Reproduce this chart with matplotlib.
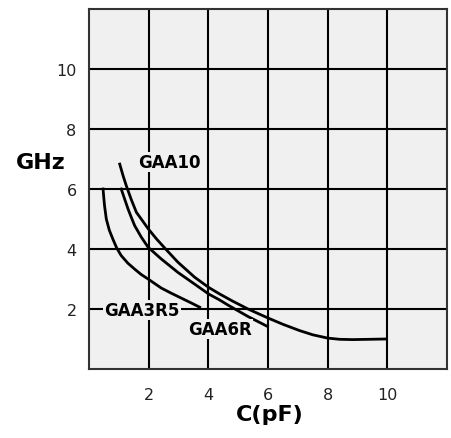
import numpy as np
import matplotlib.pyplot as plt

# Curvas (C en pF, f en GHz)
c_gaa3r5 = [0.47, 0.52, 0.58, 0.68, 0.8, 0.93, 1.08, 1.3, 1.53, 1.75, 1.98, 2.42, 2.75, 3.1, 3.43, 3.71]
f_gaa3r5 = [6.0, 5.45, 5.0, 4.63, 4.33, 4.03, 3.78, 3.53, 3.33, 3.15, 3.0, 2.7, 2.53, 2.36, 2.2, 2.06]

c_gaa6r = [1.08, 1.2, 1.31, 1.42, 1.53, 1.75, 1.98, 2.42, 2.98, 3.54, 4.01, 4.38, 4.66, 5.33, 5.98]
f_gaa6r = [6.0, 5.65, 5.33, 5.05, 4.78, 4.4, 4.06, 3.67, 3.22, 2.83, 2.5, 2.3, 2.13, 1.75, 1.42]

c_gaa10 = [1.03, 1.14, 1.25, 1.42, 1.59, 1.78, 1.98, 2.25, 2.54, 2.98, 3.54, 4.01, 4.38, 4.8, 5.33, 6.0,
           6.5, 7.06, 7.5, 8.0, 8.4, 8.84, 9.4, 9.96]
f_gaa10 = [6.83, 6.45, 6.11, 5.64, 5.22, 4.96, 4.68, 4.35, 4.03, 3.56, 3.06, 2.72, 2.5, 2.27, 2.0, 1.7,
           1.49, 1.28, 1.14, 1.03, 0.99, 0.98, 0.99, 1.0]

etiquetas = ["GAA10", "GAA3R5", "GAA6R"]
pos_etiquetas = [(2.7, 6.9), (1.77, 1.97), (4.38, 1.33)]

ticks = [2, 4, 6, 8, 10]

fig = plt.figure(figsize=(4.51, 4.39), dpi=100)
ax = fig.add_axes([89 / 451, 1 - 370 / 439, 358 / 451, 360 / 439])
ax.set_facecolor("#f0f0f0")

ax.set_xlim(0, 12)
ax.set_ylim(0, 12)
ax.set_xticks(ticks)
ax.set_yticks(ticks)
ax.tick_params(length=0, labelsize=11.5, labelcolor="#222222")
ax.tick_params(axis="x", pad=13)
ax.tick_params(axis="y", pad=9)
ax.grid(True, color="black", lw=1.5)
ax.set_axisbelow(True)
for s in ax.spines.values():
    s.set_color("#333333")
    s.set_linewidth(1.5)

for c, f in [(c_gaa3r5, f_gaa3r5), (c_gaa6r, f_gaa6r), (c_gaa10, f_gaa10)]:
    ax.plot(c, f, color="black", lw=2, solid_joinstyle="round")

for txt, (x, y) in zip(etiquetas, pos_etiquetas):
    ax.text(x, y, txt, ha="center", va="center", fontsize=12, fontweight="bold",
            bbox=dict(facecolor="#f0f0f0", edgecolor="none", pad=1.0), zorder=5)

fig.text(41 / 451, 1 - 163 / 439, "GHz", ha="center", va="center",
         fontsize=16, fontweight="bold")
fig.text(270 / 451, 1 - 415 / 439, "C(pF)", ha="center", va="center",
         fontsize=16, fontweight="bold")

fig.savefig("out.png", dpi=100)
